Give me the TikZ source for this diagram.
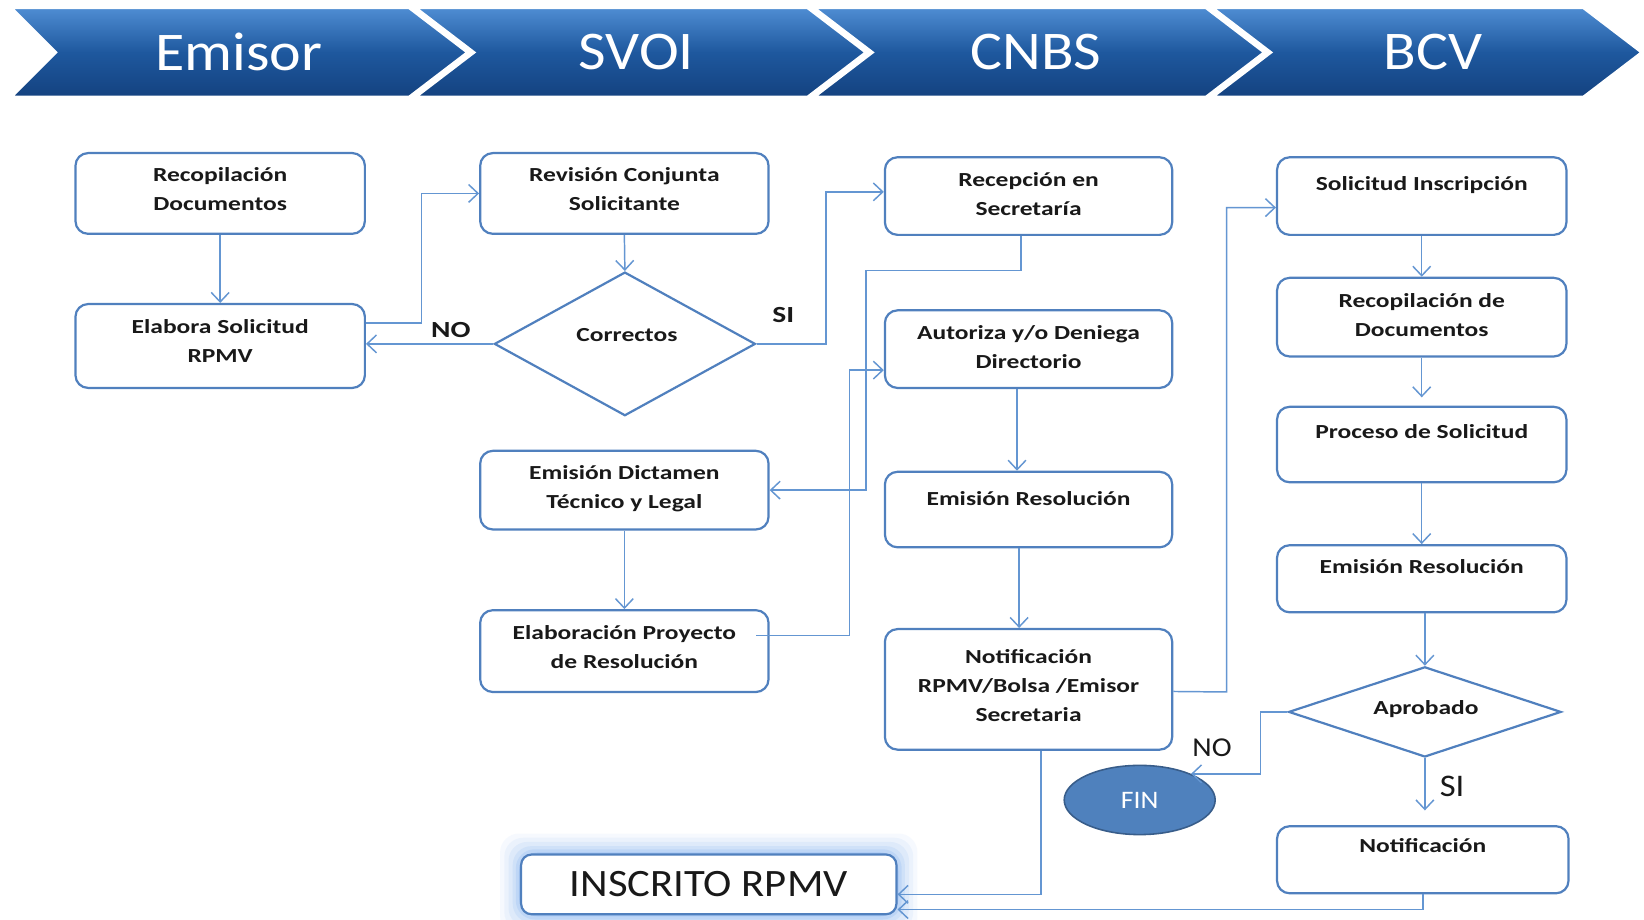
\documentclass[tikz,border=0pt]{standalone}
\usepackage{fontspec}
\setmainfont{Carlito}
\newfontfamily\boxfont[FakeStretch=1.28]{Carlito}
\newfontfamily\headfont[FakeStretch=1.1]{Carlito}
\usetikzlibrary{arrows.meta,shapes.geometric,calc}
\definecolor{hdrtop}{RGB}{78,140,210}
\definecolor{hdrmid}{RGB}{30,88,158}
\definecolor{hdrbot}{RGB}{20,66,128}
\definecolor{boxline}{RGB}{80,128,190}
\definecolor{conline}{RGB}{100,150,210}
\definecolor{finfill}{RGB}{79,129,189}
\definecolor{finline}{RGB}{56,93,138}
\definecolor{glowc}{RGB}{110,165,240}
\definecolor{txtc}{RGB}{25,25,25}
\newcommand\lift{\rule{0pt}{19pt}}
\newcommand\procbox[7]{%
 \node[procnode, minimum width={(#4)-(#2)}, minimum height={(#5)-(#3)}] (#1) at ({((#2)+(#4))/2},{((#3)+(#5))/2}) {};
 \node[proctext] (#1t) at ([yshift={(19-(#6))*1pt}]#1.north) {\lift #7};}
\begin{document}
\begin{tikzpicture}[x=1pt,y=-1pt,
 procnode/.style={draw=boxline, line width=2.1pt, rounded corners=12pt, fill=white, inner sep=0pt},
 proctext/.style={anchor=north, inner sep=0pt, align=center, text=txtc, font=\boxfont\bfseries\fontsize{19}{27.5}\selectfont},
 con/.style={draw=conline, line width=1.4pt, -{Straight Barb[length=9pt,width=17pt,line width=1.4pt]}},
 dec/.style={diamond, draw=boxline, line width=2.1pt, fill=white, inner sep=0pt},
 dectext/.style={inner sep=0pt, text=txtc, font=\boxfont\bfseries\fontsize{19}{27}\selectfont},
 hdr/.style={draw=white, line width=1.5pt, top color=hdrtop, bottom color=hdrbot, middle color=hdrmid},
 hdrtext/.style={text=white, font=\headfont\fontsize{52}{60}\selectfont},
 fin/.style={ellipse, draw=finline, fill=finfill, line width=1.5pt, minimum width=144, minimum height=66, text=white, font=\headfont\fontsize{24}{26}\selectfont},
 lab/.style={text=txtc, inner sep=0pt}]
\useasboundingbox (0,0) rectangle (1568,877);
\fill[white] (0,0) rectangle (1568,877);
% header chevrons
\path[hdr] (12,8) -- (390,8) -- (445,50) -- (390,92) -- (12,92) -- (54,50) -- cycle;
\path[hdr] (398,8) -- (770,8) -- (825,50) -- (770,92) -- (398,92) -- (453,50) -- cycle;
\path[hdr] (778,8) -- (1150,8) -- (1205,50) -- (1150,92) -- (778,92) -- (833,50) -- cycle;
\path[hdr] (1158,8) -- (1510,8) -- (1565,50) -- (1510,92) -- (1158,92) -- (1213,50) -- cycle;
\node[hdrtext] (hE) at (228,50) {Emisor};
\node[hdrtext] (hS) at (607,50) {SVOI};
\node[hdrtext] (hC) at (988,50) {CNBS};
\node[hdrtext] (hB) at (1367,50) {BCV};
% boxes
\procbox{rd}{72}{146}{348}{223}{28}{Recopilación\\Documentos}
\procbox{es}{72}{290}{348}{370}{29}{Elabora Solicitud\\RPMV}
\procbox{rv}{458}{146}{733}{223}{28}{Revisión Conjunta\\Solicitante}
\node[dec, minimum width=249, minimum height=137] (cor) at (596,328) {};
\node[dectext] (cort) at (598,320) {Correctos};
\procbox{dict}{458}{430}{733}{505}{28}{Emisión Dictamen\\Técnico y Legal}
\procbox{elp}{458}{582}{733}{660}{29}{Elaboración Proyecto\\de Resolución}
\procbox{rec}{844}{150}{1118}{224}{29}{Recepción en\\Secretaría}
\procbox{aut}{844}{296}{1118}{370}{29}{Autoriza y/o Deniega\\Directorio}
\procbox{er1}{844}{450}{1118}{522}{33}{Emisión Resolución}
\procbox{not}{844}{600}{1118}{715}{34}{Notificación\\RPMV/Bolsa /Emisor\\Secretaria}
\procbox{si}{1218}{150}{1494}{224}{33}{Solicitud Inscripción}
\procbox{rdb}{1218}{265}{1494}{340}{29}{Recopilación de\\Documentos}
\procbox{pro}{1218}{388}{1494}{460}{31}{Proceso de Solicitud}
\procbox{er2}{1218}{520}{1494}{584}{28}{Emisión Resolución}
\node[dec, minimum width=260, minimum height=86] (apr) at (1359,679) {};
\node[dectext] (aprt) at (1360,676) {Aprobado};
\procbox{notb}{1218}{788}{1496}{852}{26}{Notificación}
\node[fin] (fin) at (1087,763) {FIN};
% inscrito with glow
\foreach \g/\op in {20/0.06, 16/0.08, 12/0.1, 8/0.13, 5/0.17, 2/0.25}
  \fill[glowc, opacity=\op, rounded corners=18pt] ({497-\g},{815-\g}) rectangle ({855+\g},{872+\g});
\node[procnode, rounded corners=10pt, minimum width=358, minimum height=57, text=txtc, font=\headfont\fontsize{37}{40}\selectfont] (ins) at (676,843.5) {INSCRITO RPMV};
% labels
\node[lab, font=\boxfont\bfseries\fontsize{22}{24}\selectfont] (no1) at (430,315) {NO};
\node[lab, font=\boxfont\bfseries\fontsize{22}{24}\selectfont] (si1) at (747,300) {SI};
\node[lab, font=\headfont\fontsize{26}{28}\selectfont] (no2) at (1156,713) {NO};
\node[lab, font=\headfont\fontsize{30}{32}\selectfont] (si2) at (1385,750) {SI};
% connectors
\draw[con] (rd.south) -- (es.north);
\draw[con] ([yshift=22pt]es.east) -- (402,308) |- (rv.west);
\draw[con] (rv.south) -- (cor.north);
\draw[con] (cor.west) -- (es.east |- cor.west);
\draw[con] (cor.east) -- (788,328) |- ([yshift=4pt]rec.west);
\draw[con] ([xshift=-7pt]rec.south) -- (974,258) -- (826,258) |- (dict.east);
\draw[con] (dict.south) -- (elp.north);
\draw[con] ([xshift=-13pt,yshift=15pt]elp.east) -- (810,606) |- ([yshift=-20pt]aut.west);
\draw[con] ([xshift=-11pt]aut.south) -- ([xshift=-11pt]er1.north);
\draw[con] ([xshift=-9pt]er1.south) -- ([xshift=-9pt]not.north);
\draw[con] ([yshift=-2pt]not.east) -- (1170,660) |- ([yshift=-11pt]si.west);
\draw[con] (si.south) -- (rdb.north);
\draw[con] (rdb.south) -- ([yshift=8pt]pro.north);
\draw[con] (pro.south) -- (er2.north);
\draw[con] (er2.south -| apr.north) -- (apr.north);
\draw[con] (apr.west) -- (1202,679) |- (fin.27);
\draw[con] (apr.south) -- ([yshift=14pt]notb.north -| apr.south);
\draw[con] ([xshift=12pt]not.south) |- ([yshift=-9.5pt]ins.east);
\draw[con] (notb.south) |- ([yshift=-24pt]ins.east);
\end{tikzpicture}
\end{document}
